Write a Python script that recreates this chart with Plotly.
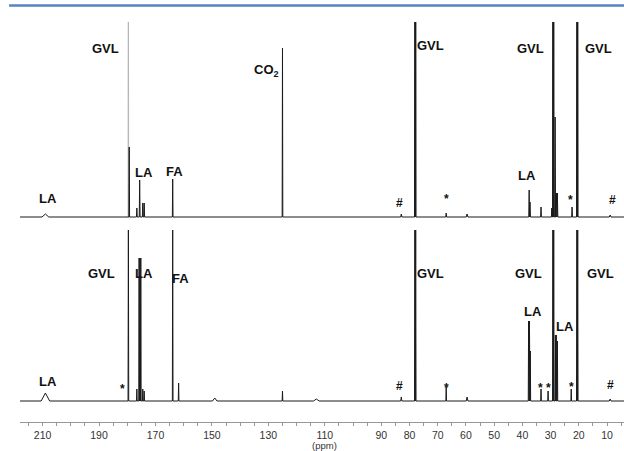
import plotly.graph_objects as go

# ---------------- data (ppm positions / peak heights in arbitrary units) -------------
# Upper spectrum
top_ppm    = [209.0, 179.3, 176.6, 175.6, 174.5, 174.0, 163.9, 125.0, 82.9, 78.1, 77.8, 67.0, 59.6,
              37.6, 37.3, 33.4, 29.6, 29.2, 28.9, 28.4, 27.9, 27.6, 22.4, 20.7, 20.4, 8.9]
top_height = [3, 70, 9, 37, 14, 14, 38, 169, 3, 420, 420, 4, 3,
              27, 15, 10, 9, 420, 420, 100, 24, 24, 10, 420, 420, 2]
top_width  = [1.2, 0.12, 0.15, 0.15, 0.15, 0.15, 0.12, 0.12, 0.2, 0.12, 0.12, 0.15, 0.3,
              0.15, 0.15, 0.15, 0.12, 0.12, 0.12, 0.15, 0.15, 0.15, 0.15, 0.12, 0.12, 0.3]

# faint, very tall GVL carbonyl line of the upper spectrum
top_faint_ppm    = [179.6]
top_faint_height = [420]
top_faint_width  = [0.1]

# Lower spectrum
bot_ppm    = [209.0, 179.6, 176.6, 175.8, 175.5, 175.2, 174.5, 174.0, 163.9, 161.8, 149.0, 125.0, 113.0,
              82.9, 78.1, 77.8, 67.0, 59.6, 37.8, 37.5, 37.2, 33.4, 30.9, 29.2, 28.9, 28.3, 28.0, 27.6,
              22.7, 20.7, 20.4, 8.9]
bot_height = [8, 171, 12, 143, 143, 143, 12, 10, 171, 18, 3, 10, 2,
              4, 171, 171, 14, 4, 80, 80, 50, 12, 10, 171, 171, 66, 66, 60,
              12, 171, 171, 2]
bot_width  = [1.5, 0.12, 0.12, 0.12, 0.12, 0.12, 0.12, 0.12, 0.12, 0.12, 0.8, 0.12, 1.0,
              0.2, 0.12, 0.12, 0.12, 0.3, 0.12, 0.12, 0.12, 0.12, 0.12, 0.12, 0.12, 0.12, 0.12, 0.12,
              0.12, 0.12, 0.12, 0.3]

top_offset = 205
bot_offset = 21

# peak labels (ppm, height, text)
top_labels_ppm  = [187.7, 208.2, 174.2, 163.3, 130.7, 72.7, 83.6, 67.0, 37.3, 38.3, 23.1, 13.2, 8.2]
top_labels_y    = [374, 224, 250, 251, 352, 377, 219, 223, 374, 247, 222, 374, 222]
top_labels_text = ["GVL", "LA", "LA", "FA", "CO<sub>2</sub>", "GVL", "#", "*", "GVL", "LA", "*", "GVL", "#"]

bot_labels_ppm  = [189.1, 174.2, 161.2, 72.7, 38.0, 12.5, 36.2, 24.9, 208.2, 181.7, 83.6, 67.0, 33.7, 30.9, 22.7, 8.9]
bot_labels_y    = [149, 149, 144, 149, 149, 149, 111, 96, 41, 33, 36, 34, 34, 34, 35, 37]
bot_labels_text = ["GVL", "LA", "FA", "GVL", "GVL", "GVL", "LA", "LA", "LA", "*", "#", "*", "*", "*", "*", "#"]

tick_vals = [210, 190, 170, 150, 130, 110, 90, 80, 70, 60, 50, 40, 30, 20, 10]
x_range = [218, 4]


def spectrum(ppms, heights, widths, offset, full=True):
    xs, ys = ([x_range[0]], [offset]) if full else ([], [])
    for p, h, w in sorted(zip(ppms, heights, widths), key=lambda t: -t[0]):
        xs += [p + w, p, p - w]
        ys += [offset, offset + h, offset]
    if full:
        xs.append(x_range[1])
        ys.append(offset)
    return xs, ys


fig = go.Figure()
for ppms, hs, ws, off, col, full in [
        (top_faint_ppm, top_faint_height, top_faint_width, top_offset, "#b5b5b5", False),
        (top_ppm, top_height, top_width, top_offset, "#1a1a1a", True),
        (bot_ppm, bot_height, bot_width, bot_offset, "#1a1a1a", True)]:
    xs, ys = spectrum(ppms, hs, ws, off, full)
    fig.add_trace(go.Scatter(x=xs, y=ys, mode="lines",
                             line=dict(color=col, width=1), hoverinfo="skip",
                             showlegend=False))

FONT = "Liberation Sans, Arial, sans-serif"
annotations = []
for xs, ys, ts in [(top_labels_ppm, top_labels_y, top_labels_text),
                   (bot_labels_ppm, bot_labels_y, bot_labels_text)]:
    for x, y, t in zip(xs, ys, ts):
        big = t not in ("*", "#")
        annotations.append(dict(
            x=x, y=y, xref="x", yref="y", showarrow=False,
            text=f"<b>{t}</b>",
            font=dict(family=FONT, size=13 if big else 12, color="#111111")))

annotations.append(dict(x=110, y=-0.0595, xref="x", yref="paper", showarrow=False,
                        text="(ppm)", yanchor="middle",
                        font=dict(family=FONT, size=9.5, color="#333")))

fig.update_layout(
    width=624, height=451,
    margin=dict(l=20, r=0, t=22, b=29),
    paper_bgcolor="white", plot_bgcolor="white",
    annotations=annotations,
    shapes=[dict(type="line", xref="paper", yref="paper", x0=-0.018, x1=1.0, y0=1.041, y1=1.041,
                 line=dict(color="#5583c4", width=2.5))],
    xaxis=dict(range=x_range, tickvals=tick_vals, ticktext=[str(v) for v in tick_vals],
               showgrid=False, zeroline=False, showline=True, linecolor="#999", linewidth=1,
               ticks="outside", ticklen=3, tickcolor="#999",
               minor=dict(dtick=5, tick0=0, ticks="outside", ticklen=3, tickcolor="#999"),
               tickfont=dict(family=FONT, size=10.5, color="#333")),
    yaxis=dict(range=[0, 400], visible=False, showgrid=False, zeroline=False),
)

fig.write_html("out.html", config={"displayModeBar": False},
               post_script="document.body.style.margin='0';document.body.style.padding='0';")
